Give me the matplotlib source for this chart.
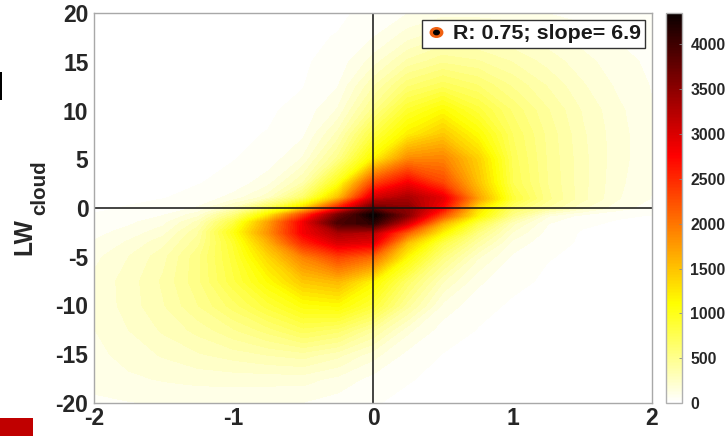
#!/usr/bin/env python3
import numpy as np
import matplotlib
matplotlib.use("Agg")
import matplotlib.pyplot as plt
from matplotlib.lines import Line2D
from matplotlib.legend_handler import HandlerTuple
from matplotlib.path import Path
from matplotlib.patches import Rectangle
from matplotlib.transforms import Affine2D

plt.rcParams['font.family'] = ['Liberation Sans', 'DejaVu Sans']
plt.rcParams['font.weight'] = 'bold'
plt.rcParams['axes.labelweight'] = 'bold'
plt.rcParams['axes.unicode_minus'] = False

# values, counts per cell
x_vals = [-2, -1.75, -1.5, -1.25, -1, -0.75, -0.5, -0.25, 0, 0.25, 0.5, 0.75, 1, 1.25, 1.5, 1.75, 2]
y_vals = [-20, -17.5, -15, -12.5, -10, -7.5, -5, -3.5, -2.5, -1.5, -0.75, 0, 1, 2.5, 5, 7.5, 10, 12.5, 15, 17.5, 20]
counts = [
    [60, 70, 80, 85, 80, 75, 70, 40, 10, 0, 0, 0, 0, 0, 0, 0, 0],
    [100, 130, 150, 165, 170, 170, 170, 120, 50, 10, 0, 0, 0, 0, 0, 0, 0],
    [120, 170, 220, 270, 310, 350, 380, 300, 170, 50, 5, 0, 0, 0, 0, 0, 0],
    [140, 210, 290, 370, 470, 580, 720, 640, 420, 160, 40, 5, 0, 0, 0, 0, 0],
    [150, 240, 340, 480, 650, 850, 1050, 1100, 850, 430, 120, 25, 0, 0, 0, 0, 0],
    [160, 240, 360, 530, 800, 1100, 1450, 1550, 1150, 650, 280, 90, 20, 0, 0, 0, 0],
    [120, 210, 320, 530, 850, 1350, 1900, 2300, 2050, 1100, 550, 220, 60, 10, 0, 0, 0],
    [80, 150, 250, 450, 900, 1600, 2500, 3000, 2900, 1500, 800, 400, 120, 30, 0, 0, 0],
    [50, 100, 180, 400, 1000, 1800, 2800, 3300, 3200, 2100, 1150, 550, 200, 50, 0, 0, 0],
    [30, 60, 120, 300, 800, 1700, 2800, 3900, 4100, 3000, 1600, 800, 300, 80, 20, 0, 0],
    [10, 30, 70, 180, 550, 1200, 2300, 3600, 4350, 3500, 2200, 1150, 500, 150, 50, 15, 5],
    [0, 10, 30, 80, 280, 700, 1300, 2500, 3700, 3500, 2700, 1300, 650, 400, 220, 100, 40],
    [0, 0, 5, 30, 100, 250, 650, 1500, 3000, 3300, 2900, 1700, 850, 500, 300, 150, 70],
    [0, 0, 0, 5, 30, 120, 350, 1000, 2300, 2800, 2300, 1500, 750, 480, 300, 160, 80],
    [0, 0, 0, 0, 5, 30, 150, 500, 1150, 1850, 1900, 1400, 720, 470, 300, 170, 90],
    [0, 0, 0, 0, 0, 10, 60, 300, 800, 1200, 1450, 1100, 680, 460, 290, 170, 90],
    [0, 0, 0, 0, 0, 0, 25, 150, 500, 900, 1100, 850, 600, 420, 270, 160, 80],
    [0, 0, 0, 0, 0, 0, 5, 70, 330, 600, 720, 620, 470, 340, 220, 130, 70],
    [0, 0, 0, 0, 0, 0, 0, 30, 170, 360, 460, 420, 340, 250, 170, 100, 60],
    [0, 0, 0, 0, 0, 0, 0, 10, 70, 180, 270, 260, 220, 170, 110, 70, 40],
    [0, 0, 0, 0, 0, 0, 0, 0, 20, 70, 110, 110, 100, 70, 50, 30, 15],
]
x_ticks = [-2, -1, 0, 1, 2]
y_ticks = [-20, -15, -10, -5, 0, 5, 10, 15, 20]
cbar_ticks = [0, 500, 1000, 1500, 2000, 2500, 3000, 3500, 4000]
vmax = 4350

W, H = 728, 436
fig = plt.figure(figsize=(W / 100, H / 100), dpi=100)
ax = fig.add_axes([94 / W, 1 - 403 / H, (652 - 94) / W, (403 - 13) / H])

# nearly empty cells stay pure white
levels = np.linspace(8, vmax, 65)
cmap = plt.get_cmap('hot_r').copy()
cmap.set_under('white')
cf = ax.contourf(x_vals, y_vals, np.array(counts), levels=levels, cmap=cmap,
                 norm=plt.Normalize(0, vmax), extend='min')
cf.set_edgecolor('face')
ax.axhline(0, color='#111111', lw=1.1)
ax.axvline(0, color='#111111', lw=1.1)

ax.set_xlim(-2, 2)
ax.set_ylim(-20, 20)
ax.set_xticks(x_ticks)
ax.set_yticks(y_ticks)
ax.tick_params(labelsize=16.5, labelcolor='#262626', length=0, pad=4)
ax.tick_params(axis='x', pad=3)
for s in ax.spines.values():
    s.set_color('#a8a8a8')
    s.set_linewidth(1.0)

# ylabel with a subscript that is larger than mathtext would make it
ax.set_ylabel('LW', fontsize=17.7, color='#262626', ha='left')
ax.yaxis.set_label_coords(36.5 / W, 1 - 255 / H, transform=fig.transFigure)
fig.text(49 / W, 1 - 215 / H, 'cloud', fontsize=14.8, color='#262626', rotation=90,
         rotation_mode='anchor', ha='left', va='bottom')

# colorbar
cax = fig.add_axes([666 / W, 1 - 403 / H, 16 / W, (403 - 13) / H])
sm = plt.cm.ScalarMappable(norm=plt.Normalize(0, vmax), cmap='hot_r')
cb = fig.colorbar(sm, cax=cax, ticks=cbar_ticks)
cb.ax.tick_params(labelsize=11.3, labelcolor='#262626', length=2, width=0.6, color='#888888',
                  direction='in', pad=6)
cb.outline.set_edgecolor('#b0b0b0')
cb.outline.set_linewidth(1.0)

# legend, marker is a small orange ellipse with a black core
ell = Affine2D().scale(1.3, 1).transform_path(Path.unit_circle())
outer = Line2D([], [], ls='none', marker=ell, ms=9, mfc='#f06010', mec='#f06010')
inner = Line2D([], [], ls='none', marker=ell, ms=4, mfc='black', mec='black')
leg = ax.legend([(outer, inner)], ['R: 0.75; slope= 6.9'],
                handler_map={tuple: HandlerTuple(ndivide=1, pad=0)},
                loc='upper right', bbox_to_anchor=(645 / W, 1 - 20 / H),
                bbox_transform=fig.transFigure, fontsize=15.4, fancybox=False,
                framealpha=1, edgecolor='#333333', borderpad=0.2, borderaxespad=0,
                handlelength=0.9, handletextpad=0.35)
leg.get_frame().set_linewidth(1.0)
for t in leg.get_texts():
    t.set_color('#1a1a1a')

# stray bits at the left edge of the slide
fig.add_artist(Rectangle((0, 0), 33 / W, 18 / H, transform=fig.transFigure, color='#c00000', lw=0))
fig.add_artist(Rectangle((0, 1 - 100 / H), 2 / W, 28 / H, transform=fig.transFigure, color='black', lw=0))

fig.savefig('out.png', dpi=100)
plt.close(fig)
